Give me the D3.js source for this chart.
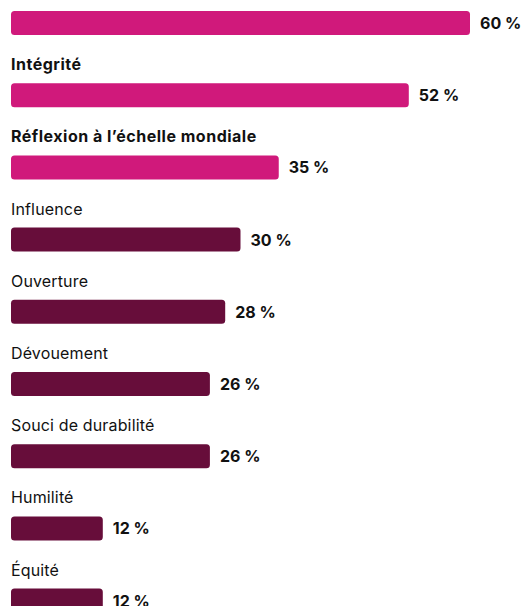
<!DOCTYPE html>
<html>
<head>
<meta charset="utf-8">
<script src="https://cdn.jsdelivr.net/npm/d3@7"></script>
<style>
  html, body { margin: 0; padding: 0; background: #fff; }
  svg { display: block; }
</style>
</head>
<body>
<div id="chart"></div>
<script>
// Qualities and the share of respondents who chose each one
const categories = ["", "Intégrité", "Réflexion à l’échelle mondiale", "Influence", "Ouverture", "Dévouement", "Souci de durabilité", "Humilité", "Équité"];
const values = [60, 52, 35, 30, 28, 26, 26, 12, 12];
const highlighted = [true, true, true, false, false, false, false, false, false];

const width = 524, height = 606;
const left = 11;
const rowStep = 72.2;
const firstBarTop = 11;
const barH = 24;
const font = "Inter, 'Liberation Sans', Arial, sans-serif";

const svg = d3.select("#chart").append("svg")
  .attr("width", width).attr("height", height);

const x = d3.scaleLinear().domain([0, 60]).range([0, 459]);
const y = d3.scaleLinear().domain([0, 1]).range([firstBarTop, firstBarTop + rowStep]);

const rows = svg.selectAll("g.row")
  .data(categories.map((c, i) => ({ c, v: values[i], hi: highlighted[i], i })))
  .join("g").attr("class", "row")
  .attr("transform", d => `translate(0,${y(d.i)})`);

rows.append("rect")
  .attr("x", left).attr("y", 0)
  .attr("width", d => x(d.v)).attr("height", barH)
  .attr("rx", 3.5).attr("ry", 3.5)
  .attr("fill", d => d.hi ? "#d0197b" : "#670d3a");

rows.append("text")
  .attr("x", d => left + x(d.v) + 10)
  .attr("y", barH / 2 + 6)
  .attr("font-family", font)
  .attr("font-weight", "bold")
  .attr("font-size", 16)
  .attr("fill", "#111")
  .text(d => `${d.v} %`);

rows.filter(d => d.c !== "").append("text")
  .attr("x", left)
  .attr("y", -13)
  .attr("font-family", font)
  .attr("font-weight", d => d.hi ? "bold" : "normal")
  .attr("font-size", 16)
  .attr("letter-spacing", d => d.hi ? 0.5 : 0.15)
  .attr("fill", "#111")
  .text(d => d.c);
</script>
</body>
</html>
